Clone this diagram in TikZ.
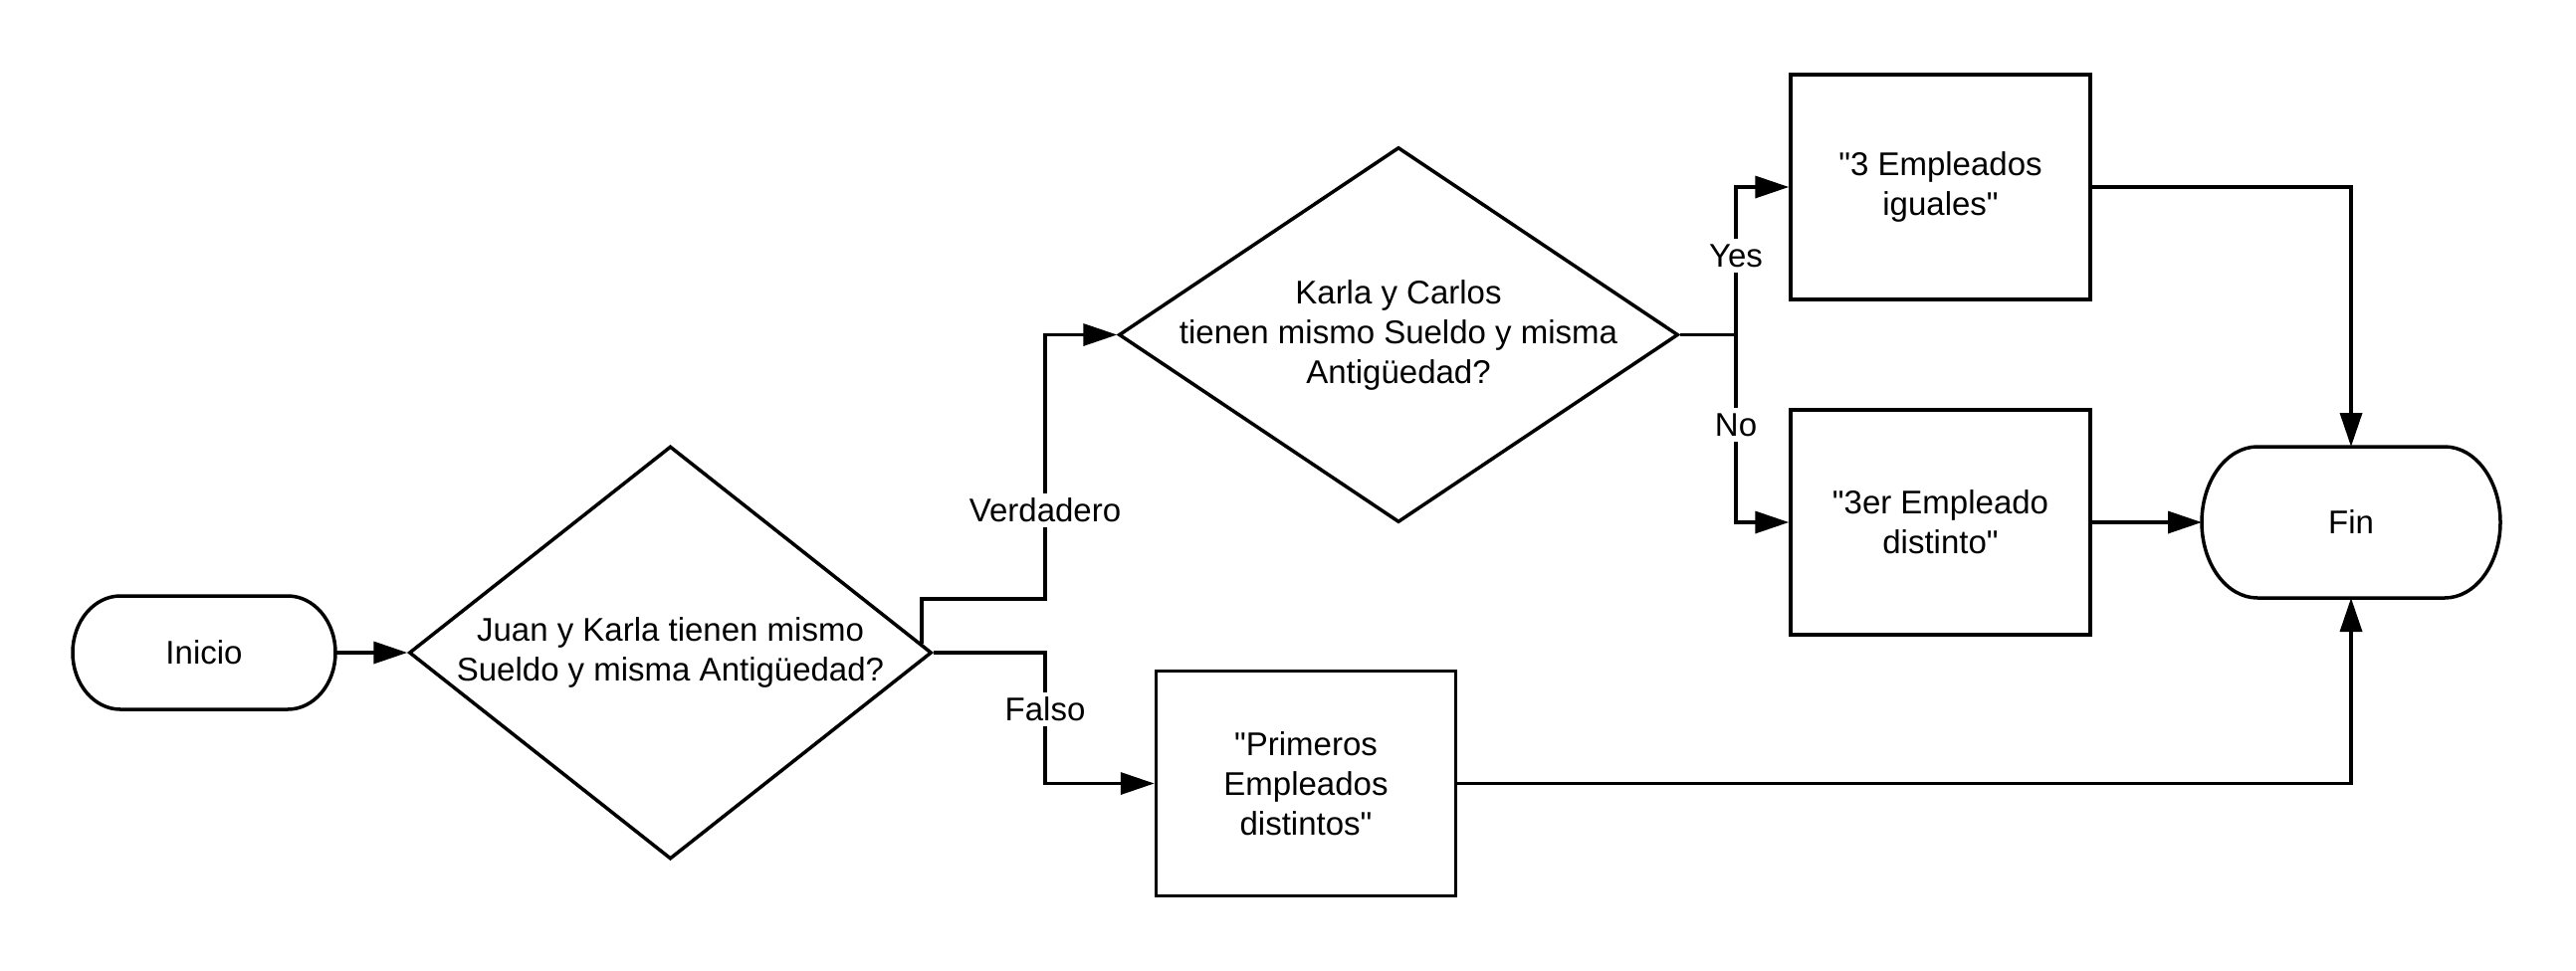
\documentclass[tikz,border=0pt]{standalone}
\usepackage{fontspec}
\setmainfont{Liberation Sans}[Ligatures=TeXOff]
\usetikzlibrary{shapes.geometric,arrows.meta,calc}
\begin{document}
\begin{tikzpicture}[x=1pt,y=-1pt]
\tikzset{
  txt/.style={font=\fontsize{33pt}{40pt}\selectfont, align=center, text=black, inner sep=0pt},
  shp/.style={draw=black, line width=3.5pt, line join=round},
  term/.style={txt, draw=none, outer sep=0pt},
  dia/.style={shape=diamond, draw=black, line width=3.5pt, inner sep=0pt},
  box/.style={txt, shape=rectangle, draw=black, line width=3.5pt, minimum width=301pt, minimum height=226pt},
  conn/.style={draw=black, line width=3.5pt, -{Triangle[length=34pt,width=22pt]}},
  plain/.style={draw=black, line width=3.5pt},
  lbl/.style={txt, fill=white, inner sep=5pt}
}
\fill[white] (0,0) rectangle (2588,975);
\useasboundingbox (0,0) rectangle (2588,975);

% Start terminator
\node[term, minimum width=264pt, minimum height=114pt] (ini) at (205,656) {Inicio};
\draw[shp] ($(ini.center)+(-84pt,57pt)$) -- ($(ini.center)+(84pt,57pt)$)
  arc[start angle=90, end angle=-90, x radius=48pt, y radius=57pt]
  -- ($(ini.center)+(-84pt,-57pt)$)
  arc[start angle=270, end angle=90, x radius=48pt, y radius=57pt] -- cycle;

% Decisions
\node[dia, minimum width=525pt, minimum height=415pt] (d1) at (673.5,656) {};
\node[txt] (t1) at (d1.center) {Juan y Karla tienen mismo\\Sueldo y misma Antigüedad?};

\node[dia, minimum width=562pt, minimum height=377pt] (d2) at (1405,336.5) {};
\node[txt] (t2) at (d2.center) {Karla y Carlos\\tienen mismo Sueldo y misma\\Antigüedad?};

% Process boxes
\node[box] (b1) at (1949.5,188) {"3 Empleados\\iguales"};
\node[box] (b2) at (1949.5,525) {"3er Empleado\\distinto"};
\node[box] (b3) at (1312,787.5) {"Primeros\\Empleados\\distintos"};

% End terminator
\node[term, minimum width=300pt, minimum height=152pt] (fin) at (2362,525) {Fin};
\draw[shp] ($(fin.center)+(-94pt,76pt)$) -- ($(fin.center)+(94pt,76pt)$)
  arc[start angle=90, end angle=-90, x radius=56pt, y radius=76pt]
  -- ($(fin.center)+(-94pt,-76pt)$)
  arc[start angle=270, end angle=90, x radius=56pt, y radius=76pt] -- cycle;

% Connectors
\draw[conn] (ini.east) -- (d1.west);

\coordinate (vs) at ($(d1.east)!0.045!(d1.north)$);
\coordinate (vt) at (1050,602);
\draw[conn] (vs) |- (vt) |- (d2.west);

\coordinate (fa) at (1050,787.5);
\draw[conn] (d1.east) -| (fa) -- (b3.west);

\coordinate (jn) at (1744,336.5);
\draw[plain] (d2.east) -- (jn);
\draw[conn] (jn) |- (b1.west);
\draw[conn] (jn) |- (b2.west);

\draw[conn] (b1.east) -| (fin.north);
\draw[conn] (b2.east) -- (fin.west);
\draw[conn] (b3.east) -| (fin.south);

% Labels
\node[lbl] (lv) at (1050,513) {Verdadero};
\node[lbl] (lf) at (1050,713) {Falso};
\node[lbl] (ly) at (1744,257) {Yes};
\node[lbl] (ln) at (1744,427) {No};
\end{tikzpicture}
\end{document}
